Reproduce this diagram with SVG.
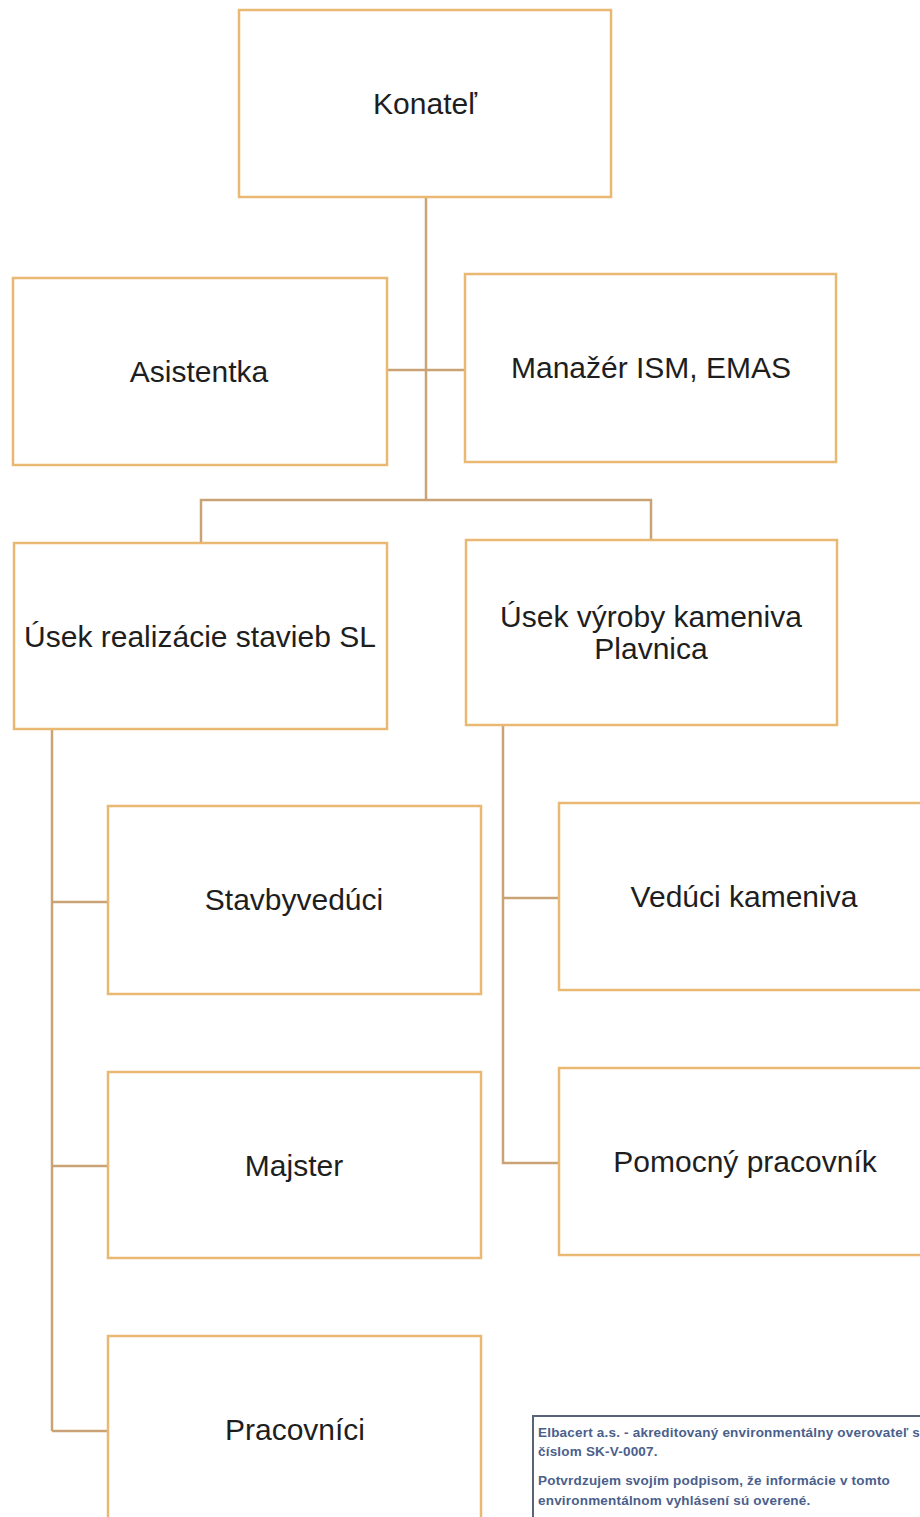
<svg xmlns="http://www.w3.org/2000/svg" width="920" height="1517" viewBox="0 0 920 1517">
<style>
.box{fill:#fff;stroke:#e9b873;stroke-width:2.5}
.con{fill:none;stroke:#c9a376;stroke-width:2.5}
.t{font-family:"Liberation Sans",Arial,sans-serif;font-size:30px;fill:#1e1e1e;text-anchor:middle}
.s{font-family:"Liberation Sans",Arial,sans-serif;font-size:13.5px;font-weight:bold;fill:#4a5f8c;letter-spacing:0.2px}
</style>
<rect width="920" height="1517" fill="#fff"/>
<g id="connectors">
<path class="con" d="M426 197V500M387 370H465M201 543V500H651V540"/>
<path class="con" d="M52 729V1431M52 902H108M52 1166H108M52 1431H108"/>
<path class="con" d="M503 725V1163H559M503 898H559"/>
</g>
<g id="konatel"><rect class="box" x="239" y="10" width="372" height="187"/><text class="t" x="425" y="114">Konateľ</text></g>
<g id="asistentka"><rect class="box" x="13" y="278" width="374" height="187"/><text class="t" x="199" y="382">Asistentka</text></g>
<g id="manazer"><rect class="box" x="465" y="274" width="371" height="188"/><text class="t" x="651" y="378">Manažér ISM, EMAS</text></g>
<g id="usek-sl"><rect class="box" x="14" y="543" width="373" height="186"/><text class="t" x="200" y="647">Úsek realizácie stavieb SL</text></g>
<g id="usek-kamenivo"><rect class="box" x="466" y="540" width="371" height="185"/><text class="t" x="651" y="627">Úsek výroby kameniva</text><text class="t" x="651" y="659">Plavnica</text></g>
<g id="stavbyveduci"><rect class="box" x="108" y="806" width="373" height="188"/><text class="t" x="294" y="910">Stavbyvedúci</text></g>
<g id="majster"><rect class="box" x="108" y="1072" width="373" height="186"/><text class="t" x="294" y="1176">Majster</text></g>
<g id="pracovnici"><rect class="box" x="108" y="1336" width="373" height="200"/><text class="t" x="295" y="1440">Pracovníci</text></g>
<g id="veduci-kameniva"><rect class="box" x="559" y="803" width="380" height="187"/><text class="t" x="744" y="907">Vedúci kameniva</text></g>
<g id="pomocny"><rect class="box" x="559" y="1068" width="380" height="187"/><text class="t" x="745" y="1172">Pomocný pracovník</text></g>
<g id="stamp">
<rect x="533" y="1416" width="400" height="120" fill="#fff" stroke="#5a6478" stroke-width="2"/>
<text class="s" x="538" y="1437">Elbacert a.s. - akreditovaný environmentálny overovateľ s</text>
<text class="s" x="538" y="1456">číslom SK-V-0007.</text>
<text class="s" x="538" y="1485">Potvrdzujem svojím podpisom, že informácie v tomto</text>
<text class="s" x="538" y="1505">environmentálnom vyhlásení sú overené.</text>
</g>
</svg>
